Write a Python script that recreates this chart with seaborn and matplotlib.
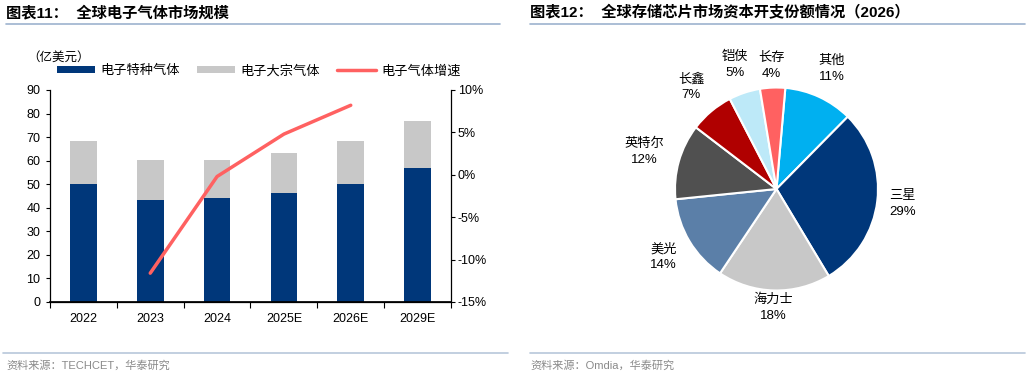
import matplotlib

matplotlib.use("Agg")
import matplotlib.pyplot as plt
import numpy as np
import pandas as pd
import seaborn as sns
from matplotlib.lines import Line2D
from matplotlib.ticker import FixedLocator, FuncFormatter, MultipleLocator

# ---------- data ----------
years = ["2022", "2023", "2024", "2025E", "2026E", "2029E"]
special_gas = [50.0, 43.5, 44.0, 46.3, 50.3, 57.0]   # 电子特种气体, 亿美元
bulk_gas = [18.2, 16.8, 16.2, 16.8, 18.0, 19.8]      # 电子大宗气体, 亿美元
growth_years = ["2023", "2024", "2025E", "2026E"]
growth_pct = [-11.6, -0.2, 4.8, 8.2]                 # 电子气体增速, %

pie_labels = ["其他", "三星", "海力士", "美光", "英特尔", "长鑫", "铠侠", "长存"]
pie_shares = [11, 29, 18, 14, 12, 7, 5, 4]

# ---------- style ----------
NAVY = "#00377A"
GRAY = "#C8C8C8"
RED = "#FF6161"
pie_colors = ["#00B0F0", NAVY, GRAY, "#5B7FA8", "#505050", "#B00000", "#BDE9F8", RED]
label_dist = [1.30, 1.25, 1.17, 1.30, 1.35, 1.31, 1.29, 1.21]
HEAD_LINE = "#9DB3CE"
FOOT_LINE = "#B8C7DA"

sns.set_theme(style="white")
plt.rcParams["font.family"] = ["Liberation Sans", "Noto Sans CJK SC"]
plt.rcParams["axes.unicode_minus"] = False
for key in ("text.color", "axes.labelcolor", "xtick.color", "ytick.color", "axes.edgecolor"):
    plt.rcParams[key] = "black"

W, H = 1030, 378
fig = plt.figure(figsize=(W / 100, H / 100), dpi=100)


def fx(px):
    return px / W


def fy(py):
    return 1 - py / H


# ---------- headers / footers ----------
fig.text(fx(6), fy(13), "图表11：  全球电子气体市场规模", fontsize=11,
         fontweight="bold", va="center")
fig.text(fx(530), fy(13), "图表12：  全球存储芯片市场资本开支份额情况（2026）",
         fontsize=11, fontweight="bold", va="center")
for x0, x1 in ((6, 500), (530, 1025)):
    fig.add_artist(Line2D([fx(x0), fx(x1)], [fy(24), fy(24)], color=HEAD_LINE, lw=1.2))
for x0, x1 in ((3, 508), (530, 1025)):
    fig.add_artist(Line2D([fx(x0), fx(x1)], [fy(353), fy(353)], color=FOOT_LINE, lw=1.2))
fig.text(fx(6), fy(365), "资料来源：TECHCET，华泰研究", fontsize=8, color="#8a8a8a", va="center")
fig.text(fx(530), fy(365), "资料来源：Omdia，华泰研究", fontsize=8, color="#8a8a8a", va="center")

# ---------- left: stacked bars + growth line ----------
df = pd.DataFrame({
    "year": years,
    "special": special_gas,
    "total": np.add(special_gas, bulk_gas),
})

ax = fig.add_axes([fx(50), fy(302), fx(451) - fx(50), fy(90) - fy(302)])
sns.barplot(data=df, x="year", y="total", color=GRAY, width=0.4, saturation=1,
            linewidth=0, ax=ax, label="电子大宗气体")
sns.barplot(data=df, x="year", y="special", color=NAVY, width=0.4, saturation=1,
            linewidth=0, ax=ax, label="电子特种气体")

ax2 = ax.twinx()
gx = [years.index(y) for y in growth_years]
sns.lineplot(x=gx, y=np.array(growth_pct) / 100, color=RED, lw=2.5, ax=ax2,
             label="电子气体增速")

for a in (ax, ax2):
    if a.get_legend() is not None:
        a.get_legend().remove()

ax.set_xlim(-0.5, len(years) - 0.5)
ax.set_ylim(0, 90)
ax.yaxis.set_major_locator(MultipleLocator(10))
ax2.set_ylim(-0.15, 0.10)
ax2.yaxis.set_major_locator(MultipleLocator(0.05))
ax2.yaxis.set_major_formatter(FuncFormatter(lambda v, _: f"{round(v * 100)}%"))
ax.set_xlabel("")
ax.set_ylabel("")
ax2.set_ylabel("")

ax.xaxis.set_minor_locator(FixedLocator(np.arange(-0.5, len(years), 1)))
ax.tick_params(axis="x", which="major", length=0, pad=8, labelsize=9)
ax.tick_params(axis="x", which="minor", bottom=True, length=4, width=0.8, direction="out")
ax.tick_params(axis="y", left=True, length=3, width=0.8, pad=4, labelsize=9)
ax2.tick_params(axis="y", right=True, length=3, width=0.8, pad=2, labelsize=9)

ax.spines["top"].set_visible(False)
ax.spines["right"].set_visible(False)
ax2.spines["top"].set_visible(False)
ax2.spines["left"].set_visible(False)
for sp in ("left", "bottom"):
    ax.spines[sp].set_linewidth(0.9)
ax2.spines["right"].set_linewidth(0.9)

fig.text(fx(27), fy(58), "（亿美元）", fontsize=9, va="center")

h1, l1 = ax.get_legend_handles_labels()
h2, l2 = ax2.get_legend_handles_labels()
lookup = dict(zip(l1 + l2, h1 + h2))
order = ["电子特种气体", "电子大宗气体", "电子气体增速"]
fig.legend([lookup[k] for k in order], order, loc="center left",
           bbox_to_anchor=(fx(57), fy(71)), ncol=3, frameon=False, fontsize=9.5,
           handlelength=2.9, handleheight=0.5, handletextpad=0.4,
           columnspacing=1.3, borderpad=0, borderaxespad=0)

# ---------- right: pie ----------
cx, cy, r = 776.5, 189, 101.5
side = 3 * r
axp = fig.add_axes([fx(cx - side / 2), fy(cy + side / 2), side / W, side / H])
wedges, _ = axp.pie(pie_shares, colors=pie_colors, startangle=85, counterclock=False,
                    wedgeprops=dict(edgecolor="white", linewidth=1.5))
axp.set_xlim(-1.5, 1.5)
axp.set_ylim(-1.5, 1.5)
for w, lab, share, d in zip(wedges, pie_labels, pie_shares, label_dist):
    ang = np.deg2rad((w.theta1 + w.theta2) / 2)
    axp.text(d * np.cos(ang), d * np.sin(ang), f"{lab}\n{share}%", ha="center",
             va="center", fontsize=9.5, linespacing=1.45)

fig.savefig("out.png", dpi=100)
